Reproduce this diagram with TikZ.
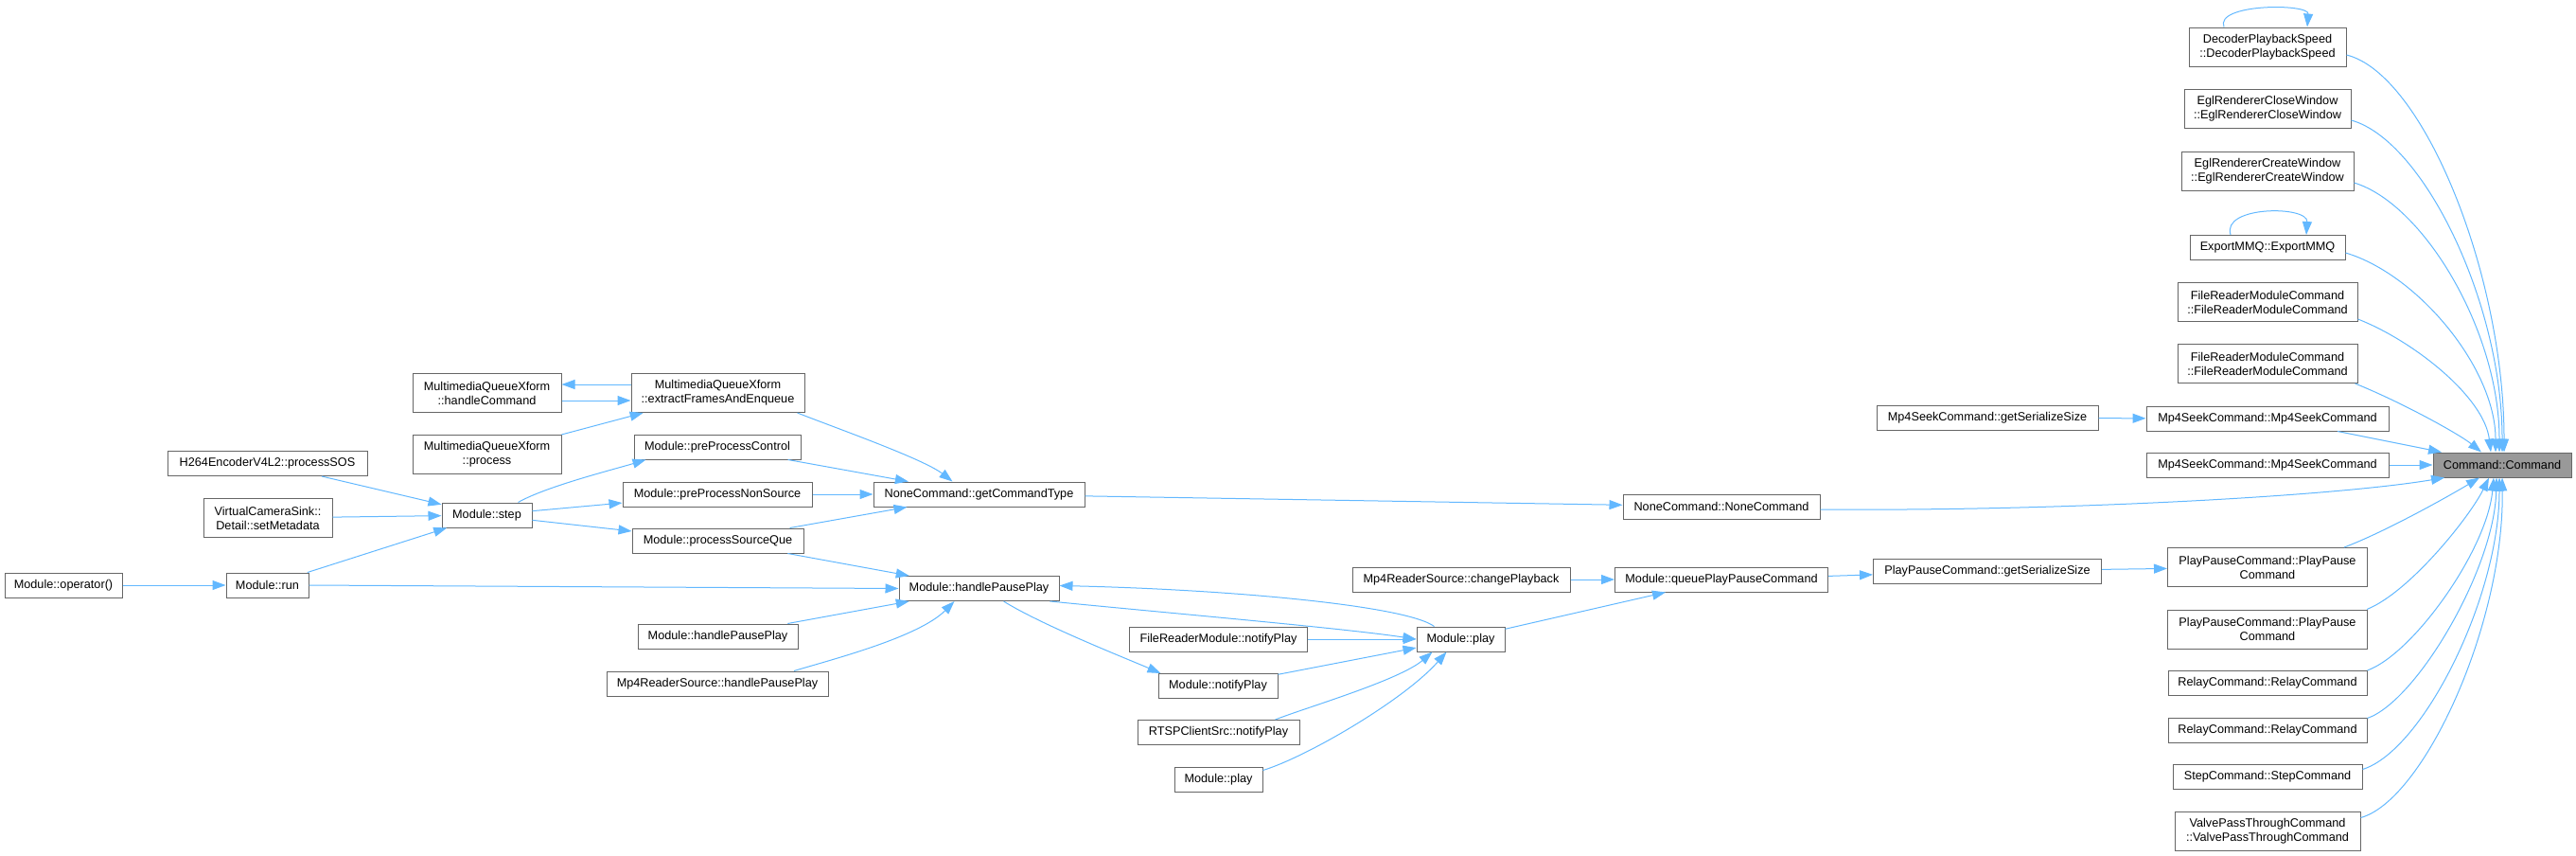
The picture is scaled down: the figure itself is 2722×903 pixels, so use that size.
\documentclass[tikz,border=0pt]{standalone}
\usepackage{fontspec}
\setmainfont{Liberation Sans}
\usetikzlibrary{arrows.meta,calc}
\definecolor{edgeblue}{HTML}{63B8FF}
\definecolor{boxgray}{HTML}{666666}
\definecolor{rootfill}{HTML}{999999}
\begin{document}
\begin{tikzpicture}[x=1pt,y=-1pt,
  nd/.style={draw=boxgray, fill=white, line width=1pt, inner xsep=2pt, inner ysep=2pt,
    minimum height=26pt, align=center, font=\fontsize{12.7}{15}\selectfont, text=black},
  two/.style={minimum height=41pt},
  root/.style={fill=rootfill},
  ed/.style={draw=edgeblue, line width=1pt, -{Triangle[length=14pt,width=10pt]}},
]
\useasboundingbox (0,0) rectangle (2722,903);

% right column
\node[nd,two,minimum width=166pt] (dec) at (2396,49.5) {DecoderPlaybackSpeed\\::DecoderPlaybackSpeed};
\node[nd,two,minimum width=176pt] (eglclose) at (2396,115) {EglRendererCloseWindow\\::EglRendererCloseWindow};
\node[nd,two,minimum width=182pt] (eglcreate) at (2396,180.5) {EglRendererCreateWindow\\::EglRendererCreateWindow};
\node[nd,minimum width=164pt] (export) at (2396,261.5) {ExportMMQ::ExportMMQ};
\node[nd,two,minimum width=190pt] (frmc1) at (2396,319) {FileReaderModuleCommand\\::FileReaderModuleCommand};
\node[nd,two,minimum width=190pt] (frmc2) at (2396,384) {FileReaderModuleCommand\\::FileReaderModuleCommand};
\node[nd,minimum width=256pt] (seek1) at (2396,442) {Mp4SeekCommand::Mp4SeekCommand};
\node[nd,minimum width=256pt] (seek2) at (2396,491) {Mp4SeekCommand::Mp4SeekCommand};
\node[nd,two,minimum width=211pt] (pp1) at (2396,599) {PlayPauseCommand::PlayPause\\Command};
\node[nd,two,minimum width=211pt] (pp2) at (2396,664.5) {PlayPauseCommand::PlayPause\\Command};
\node[nd,minimum width=210pt] (relay1) at (2396,721.5) {RelayCommand::RelayCommand};
\node[nd,minimum width=210pt] (relay2) at (2396,771) {RelayCommand::RelayCommand};
\node[nd,minimum width=200pt] (stepc) at (2396,820.5) {StepCommand::StepCommand};
\node[nd,two,minimum width=196pt] (valve) at (2396,877.5) {ValvePassThroughCommand\\::ValvePassThroughCommand};
\node[nd,root,minimum width=146pt] (cmd) at (2644,491) {Command::Command};

% middle
\node[nd,minimum width=234pt] (seekgs) at (2100,441.5) {Mp4SeekCommand::getSerializeSize};
\node[nd,minimum width=241pt] (ppgs) at (2100,603) {PlayPauseCommand::getSerializeSize};
\node[nd,minimum width=208pt] (nonecmd) at (1819,535) {NoneCommand::NoneCommand};
\node[nd,minimum width=225pt] (qppc) at (1819,612) {Module::queuePlayPauseCommand};
\node[nd,minimum width=230pt] (changepb) at (1544,612) {Mp4ReaderSource::changePlayback};
\node[nd,minimum width=93pt] (play) at (1543.5,675) {Module::play};
\node[nd,minimum width=188pt] (frnotify) at (1287.5,675) {FileReaderModule::notifyPlay};
\node[nd,minimum width=126pt] (mnotify) at (1287,724.5) {Module::notifyPlay};
\node[nd,minimum width=171pt] (rtsp) at (1287.5,773.5) {RTSPClientSrc::notifyPlay};
\node[nd,minimum width=93pt] (playlow) at (1287.5,823) {Module::play};
\node[nd,minimum width=223pt] (gct) at (1034.5,522) {NoneCommand::getCommandType};
\node[nd,minimum width=169pt] (hpp) at (1034.5,621.5) {Module::handlePausePlay};

% left
\node[nd,two,minimum width=183pt] (extract) at (758.5,415) {MultimediaQueueXform\\::extractFramesAndEnqueue};
\node[nd,minimum width=176pt] (ppc) at (758,472) {Module::preProcessControl};
\node[nd,minimum width=200pt] (ppns) at (758,522) {Module::preProcessNonSource};
\node[nd,minimum width=181pt] (psq) at (758.5,571) {Module::processSourceQue};
\node[nd,minimum width=169pt] (hppl) at (758.5,672) {Module::handlePausePlay};
\node[nd,minimum width=234pt] (mp4hpp) at (758,722) {Mp4ReaderSource::handlePausePlay};
\node[nd,two,minimum width=157pt] (handlecmd) at (514.5,415) {MultimediaQueueXform\\::handleCommand};
\node[nd,two,minimum width=157pt] (process) at (514.5,480) {MultimediaQueueXform\\::process};
\node[nd,minimum width=95pt] (step) at (514.5,544) {Module::step};
\node[nd,minimum width=211pt] (sos) at (282.5,489.5) {H264EncoderV4L2::processSOS};
\node[nd,two,minimum width=136pt] (setmeta) at (283,547) {VirtualCameraSink::\\Detail::setMetadata};
\node[nd,minimum width=87pt] (run) at (282.5,618) {Module::run};
\node[nd,minimum width=124pt] (opr) at (67,618) {Module::operator()};

% self loops
\draw[ed] ($(dec.north)+(-46,0)$) .. controls +(-10,-25) and +(2,-25) .. ($(dec.north)+(42,0)$);
\draw[ed] ($(export.north)+(-39,0)$) .. controls +(-10,-31) and +(2,-31) .. ($(export.north)+(41,0)$);

% into Command::Command from above
\draw[ed] ($(dec.east)+(0,8.5)$) .. controls +(81,20) and +(0,-188) .. ($(cmd.north)+(2,0)$);
\draw[ed] ($(eglclose.east)+(0,12)$) .. controls +(76,21) and +(0,-158) .. ($(cmd.north)+(0,0)$);
\draw[ed] ($(eglcreate.east)+(0,12.5)$) .. controls +(73,22) and +(0,-128) .. ($(cmd.north)+(-3,0)$);
\draw[ed] ($(export.east)+(0,5.5)$) .. controls +(77,23) and +(0,-88) .. ($(cmd.north)+(-7,0)$);
\draw[ed] ($(frmc1.east)+(0,18)$) .. controls +(59,23) and +(-7,-58) .. ($(cmd.north)+(-12,0)$);
\draw[ed] ($(frmc2.south east)+(-3,0)$) .. controls +(52,21) and +(-22,-18) .. ($(cmd.north)+(-22,0)$);
\draw[ed] ($(seek1.south)+(74,0)$) -- ($(cmd.north)+(-64,0)$);
\draw[ed] (seek2) -- (cmd);

% into Command::Command from below
\draw[ed] ($(nonecmd.east)+(0,3)$) .. controls +(250,2) and +(-120,20) .. ($(cmd.south)+(-61,0)$);
\draw[ed] ($(pp1.north)+(81,0)$) .. controls +(45,-17) and +(-30,18) .. ($(cmd.south)+(-24,0)$);
\draw[ed] ($(pp2.north east)+(-1,0)$) .. controls +(45,-18) and +(-20,41) .. ($(cmd.south)+(-14,0)$);
\draw[ed] (relay1.north east) .. controls +(49,-18) and +(-7,76) .. ($(cmd.south)+(-9,0)$);
\draw[ed] ($(relay2.north east)+(0,1)$) .. controls +(52,-18) and +(-2,96) .. ($(cmd.south)+(-6,0)$);
\draw[ed] ($(stepc.east)+(0,-8)$) .. controls +(64,-20) and +(0,126) .. ($(cmd.south)+(-3,0)$);
\draw[ed] ($(valve.east)+(0,-14)$) .. controls +(66,-18) and +(2,156) .. ($(cmd.south)+(0,0)$);

% middle edges
\draw[ed] (seekgs) -- (seek1);
\draw[ed] (ppgs) -- (pp1);
\draw[ed] (qppc) -- (ppgs);
\draw[ed] (changepb) -- (qppc);
\draw[ed] (play) -- (qppc);
\draw[ed] (gct) -- (nonecmd);
\draw[ed] (frnotify) -- (play);
\draw[ed] (mnotify) -- (play);
\draw[ed] ($(rtsp.north east)+(-26,0)$) .. controls +(30,-12) and +(-35,30) .. ($(play.south)+(-30,0)$);
\draw[ed] ($(playlow.north east)+(0,4)$) .. controls +(46,-14) and +(-45,51) .. ($(play.south)+(-15,0)$);
\draw[ed] ($(play.north)+(-28,0)$) .. controls +(-30,-22) and +(180,4) .. ($(hpp.east)+(0,-3)$);
\draw[ed] ($(hpp.south east)+(-10,0)$) .. controls +(120,12) and +(-80,-12) .. (play.west);
\draw[ed] ($(hpp.south)+(26,0)$) .. controls +(40,25) and +(-35,-15) .. ($(mnotify.north west)+(3,0)$);

% left edges
\draw[ed] (opr) -- (run);
\draw[ed] (run) -- (step);
\draw[ed] (setmeta) -- (step);
\draw[ed] (sos) -- (step);
\draw[ed] (step) -- (ppns);
\draw[ed] (step) -- (psq);
\draw[ed] ($(step.north)+(33,0)$) .. controls +(30,-17) and +(-33,10) .. ($(ppc.south west)+(13,0)$);
\draw[ed] (process) -- (extract);
\draw[ed] ($(extract.west)+(0,-9)$) -- ($(handlecmd.east)+(0,-9)$);
\draw[ed] ($(handlecmd.east)+(0,8)$) -- ($(extract.west)+(0,8)$);
\draw[ed] ($(extract.south east)+(-8,0)$) .. controls +(38,15) and +(-31,-24) .. ($(gct.north)+(-28,0)$);
\draw[ed] (ppc) -- (gct);
\draw[ed] (ppns) -- (gct);
\draw[ed] (psq) -- (gct);
\draw[ed] (psq) -- (hpp);
\draw[ed] (run.east) -- (hpp.west);
\draw[ed] (hppl) -- (hpp);
\draw[ed] ($(mp4hpp.north)+(81,0)$) .. controls +(40,-12) and +(-38,38) .. ($(hpp.south)+(-26,0)$);
\end{tikzpicture}
\end{document}
